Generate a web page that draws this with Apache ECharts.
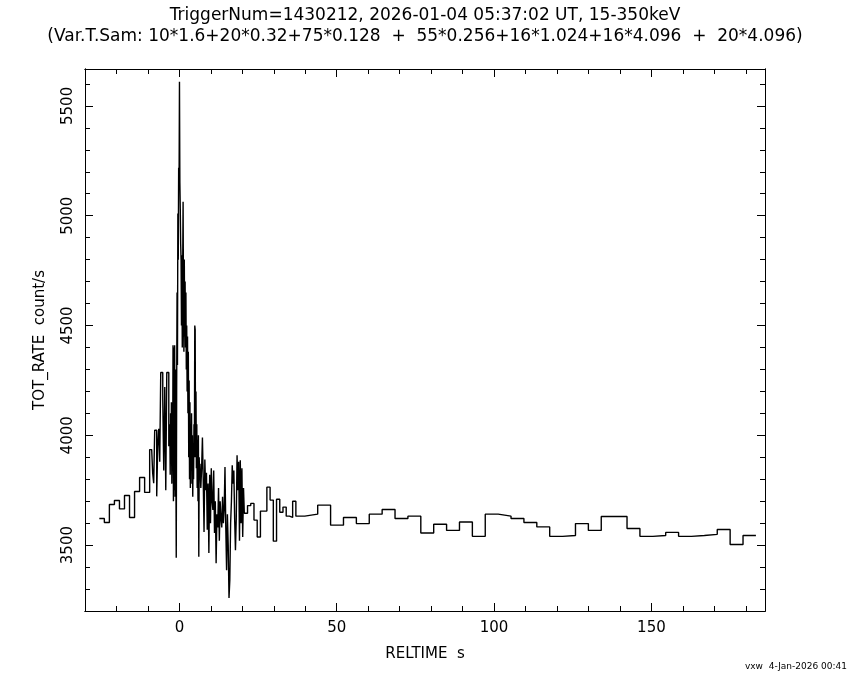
<!DOCTYPE html>
<html><head><meta charset="utf-8">
<script src="https://cdn.jsdelivr.net/npm/echarts@6/dist/echarts.min.js"></script>
<style>html,body{margin:0;padding:0;background:#fff}#c{width:850px;height:680px}</style>
</head><body><div id="c"></div>
<script>
// ---- data ----
const startTime = -25.45;              // s, start of first bin
// bin widths (s) of each sampling segment
const width1600 = 1.6, width320 = 0.32, width128 = 0.128, width256 = 0.256, width1024 = 1.024, widthGap = 2.84, width4096 = 4.096;
const rate1600 = [3621, 3603, 3685, 3703, 3665, 3726, 3626, 3744, 3808, 3740];
const rate320 = [3935, 3935, 3935, 3827, 3782, 4023, 4023, 3722, 3950, 4030,
                 3880, 4286, 4286, 4164, 3840, 4220, 3750, 4286, 4286, 3950];
const rate128 = [4050, 3820, 4100, 3900, 4150, 3780, 4000, 3850,
                 4410, 3700, 4400, 3750, 4410, 3720, 4300, 3900,
                 3442, 4200, 4650, 4320, 5010, 4800, 5218, 5150,
                 5610, 5150, 5030, 4870,
                 4800, 4500, 4820, 4400, 4760, 5064, 4600, 4380, 4800, 4450, 4700,
                 4400, 4650, 4300, 4500, 4200, 4450, 4100, 4380,
                 3900, 4250, 3800, 4150, 3760, 4050, 3850, 4100, 3780, 4000, 3720, 3950, 3800, 4050,
                 3900, 4500, 4480, 3900, 4200,
                 3850, 4050, 3760, 3980, 3700, 4000, 3447, 3900, 3800];
const rate256 = [3870, 3760, 3850, 3990, 3800, 3560, 3890, 3750, 3830, 3570,
                 3780, 3464, 3820, 3600, 3850, 3700, 3660, 3840, 3555, 3700,
                 3418, 3640, 3580, 3760, 3520, 3700, 3620, 3580, 3720, 3600,
                 3660, 3856, 3580, 3386, 3640, 3500, 3259, 3341, 3600, 3700,
                 3864, 3780, 3840, 3620, 3477, 3620, 3909, 3750, 3880, 3520,
                 3886, 3600, 3850, 3537, 3760];
const rate1024 = [3645, 3680, 3690, 3614, 3537, 3655, 3655, 3764, 3705, 3518, 3709, 3650, 3673, 3632, 3626, 3700];
const rateGap = [3632];
const rate4096 = [3641, 3682, 3591, 3626, 3598, 3641, 3662, 3621, 3632, 3555, 3595, 3567, 3605, 3540, 3641, 3632,
                  3621, 3603, 3583, 3540, 3544, 3598, 3567, 3630, 3630, 3576, 3540, 3544, 3558, 3540, 3544, 3549, 3571, 3503, 3544];

const xMajorTicks = [0, 50, 100, 150];
const xMinorTicks = [-20, -10, 10, 20, 30, 40, 60, 70, 80, 90, 110, 120, 130, 140, 160, 170, 180];
const yMajorTicks = [3500, 4000, 4500, 5000, 5500];
const yMinorTicks = [3300, 3400, 3600, 3700, 3800, 3900, 4100, 4200, 4300, 4400, 4600, 4700, 4800, 4900, 5100, 5200, 5300, 5400, 5600];

const titleLine1 = 'TriggerNum=1430212, 2026-01-04 05:37:02 UT, 15-350keV';
const titleLine2 = '(Var.T.Sam: 10*1.6+20*0.32+75*0.128  +  55*0.256+16*1.024+16*4.096  +  20*4.096)';
const footer = 'vxw  4-Jan-2026 00:41';

// ---- build histogram points ----
const segments = [[rate1600, width1600], [rate320, width320], [rate128, width128], [rate256, width256],
                  [rate1024, width1024], [rateGap, widthGap], [rate4096, width4096]];
const pts = [];
let t = startTime;
for (const [vals, dt] of segments) { for (const v of vals) { pts.push([t, v]); t += dt; } }
pts.push([t, pts[pts.length - 1][1]]);

const FONT = 'DejaVu Sans';
const XMIN = -30, XMAX = 186.1, YMIN = 3200, YMAX = 5668;
const lineStyle = { color: '#000', width: 1 };

function xAx(pos, ticks, len, labels) {
  return {
    type: 'value', position: pos, min: XMIN, max: XMAX, gridIndex: 0,
    axisLine: { show: true, onZero: false, lineStyle: lineStyle },
    axisTick: { show: true, inside: true, length: len, customValues: ticks, lineStyle: lineStyle },
    axisLabel: labels ? { show: true, customValues: ticks, formatter: v => String(v), color: '#000', fontFamily: FONT, fontSize: 15, margin: 10 } : { show: false },
    splitLine: { show: false }
  };
}
function yAx(pos, ticks, len, labels) {
  return {
    type: 'value', position: pos, min: YMIN, max: YMAX, gridIndex: 0,
    axisLine: { show: true, onZero: false, lineStyle: lineStyle },
    axisTick: { show: true, inside: true, length: len, customValues: ticks, lineStyle: lineStyle },
    axisLabel: labels ? { show: true, customValues: ticks, formatter: v => String(v), rotate: 90, color: '#000', fontFamily: FONT, fontSize: 15, margin: 9 } : { show: false },
    splitLine: { show: false }
  };
}

const xMain = xAx('bottom', xMajorTicks, 8, true);
xMain.name = 'RELTIME  s';
xMain.nameLocation = 'middle';
xMain.nameGap = 36;
xMain.nameTextStyle = { color: '#000', fontFamily: FONT, fontSize: 15, verticalAlign: 'top' };
const yMain = yAx('left', yMajorTicks, 8, true);
yMain.name = 'TOT_RATE  count/s';
yMain.nameLocation = 'middle';
yMain.nameGap = 37;
yMain.nameRotate = 90;
yMain.nameTextStyle = { color: '#000', fontFamily: FONT, fontSize: 15 };

const chart = echarts.init(document.getElementById('c'), null, { renderer: 'canvas' });
chart.setOption({
  animation: false,
  backgroundColor: '#fff',
  grid: { left: 85, right: 85, top: 69, bottom: 69, containLabel: false },
  title: [
    { text: titleLine1, left: 'center', top: 2, textStyle: { color: '#000', fontFamily: FONT, fontSize: 17, fontWeight: 'normal' } },
    { text: titleLine2, left: 'center', top: 23, textStyle: { color: '#000', fontFamily: FONT, fontSize: 17, fontWeight: 'normal' } }
  ],
  graphic: [
    { type: 'text', right: 3, top: 662, style: { text: footer, fill: '#000', font: '9px "DejaVu Sans"' } }
  ],
  xAxis: [xMain, xAx('bottom', xMinorTicks, 5, false), xAx('top', xMajorTicks, 8, false), xAx('top', xMinorTicks, 5, false)],
  yAxis: [yMain, yAx('left', yMinorTicks, 5, false), yAx('right', yMajorTicks, 8, false), yAx('right', yMinorTicks, 5, false)],
  series: [{
    type: 'line', xAxisIndex: 0, yAxisIndex: 0, step: 'end', data: pts,
    showSymbol: false, symbol: 'none', lineStyle: { color: '#000', width: 1.4 }, clip: true
  }]
});
</script></body></html>
